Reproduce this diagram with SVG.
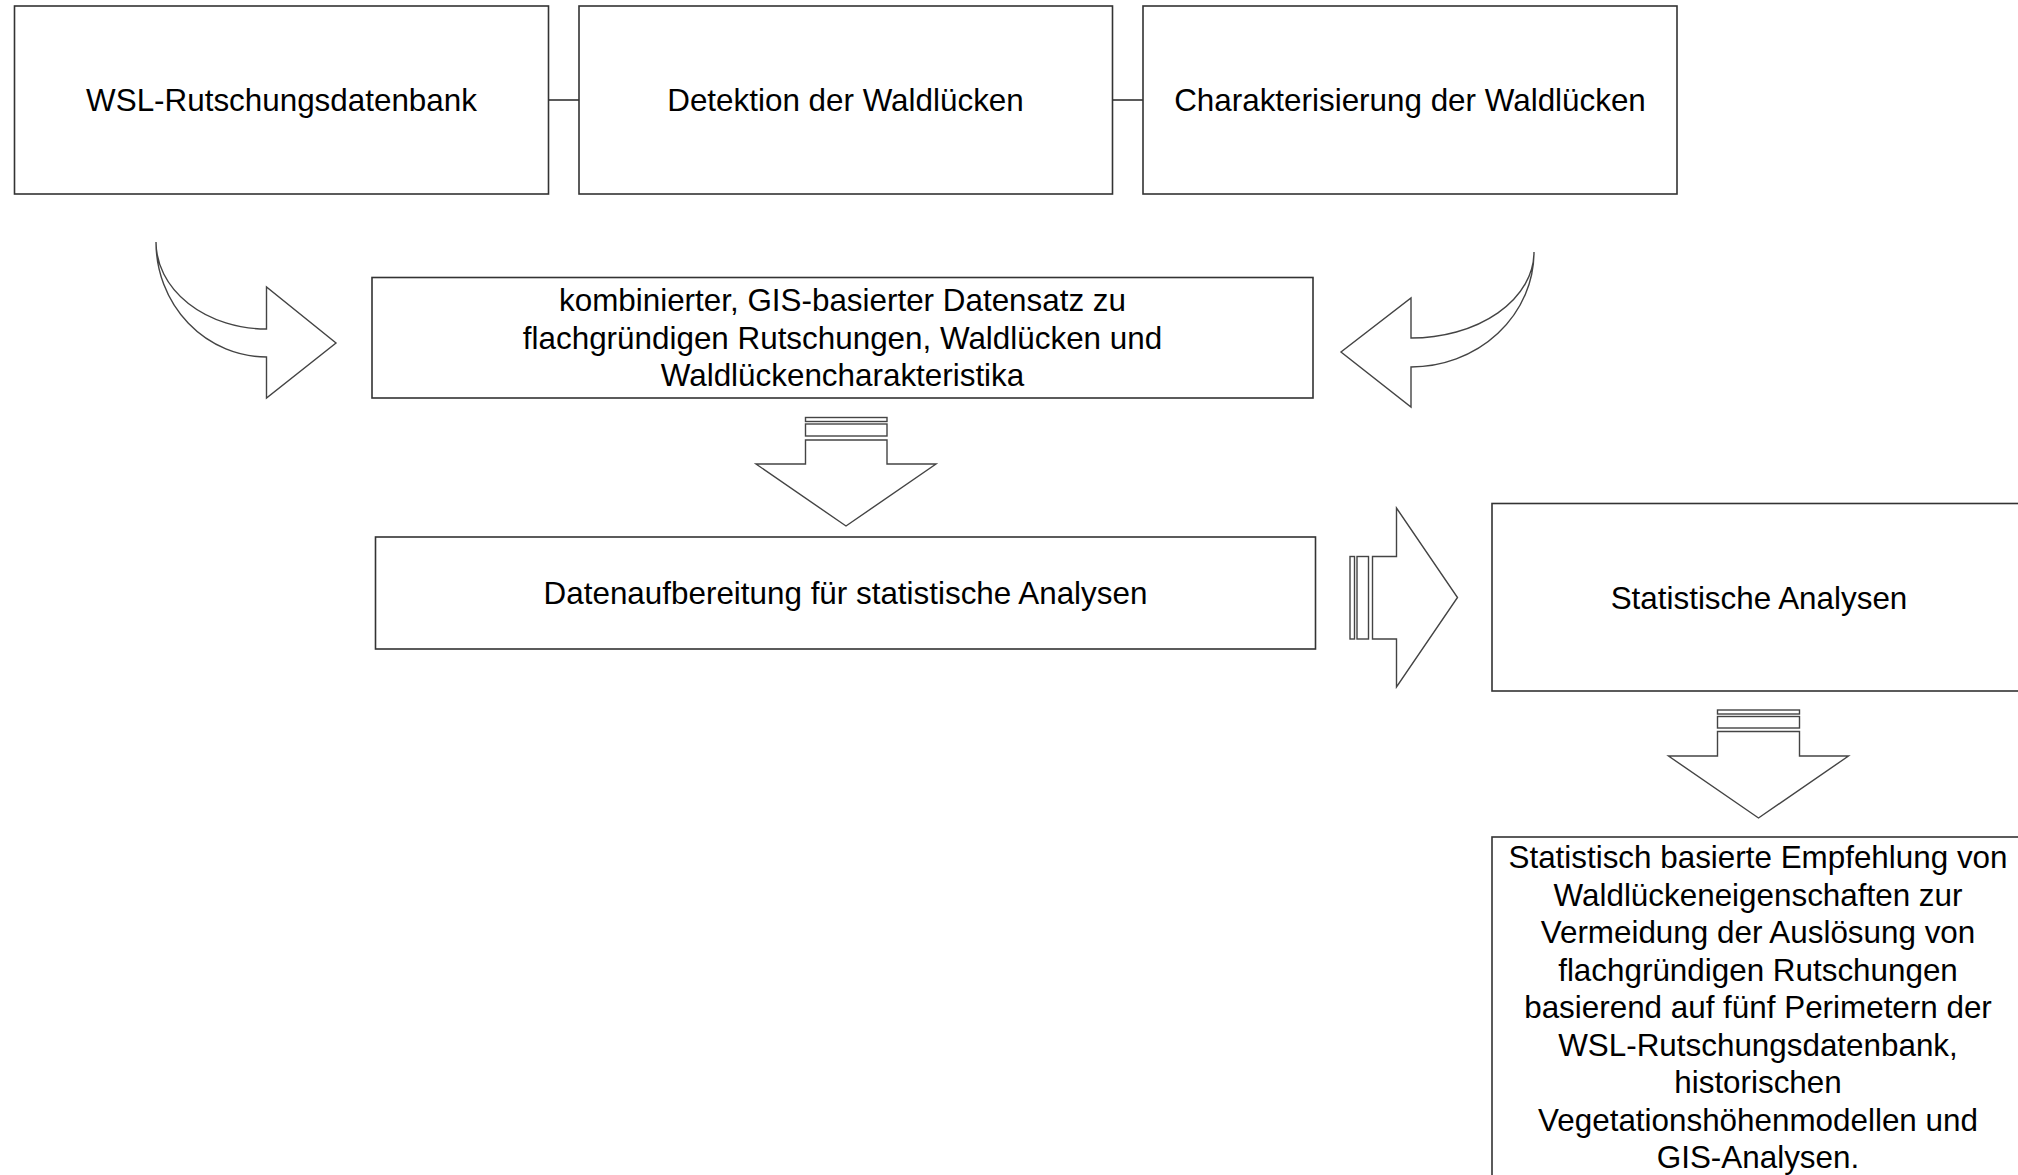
<svg xmlns="http://www.w3.org/2000/svg" width="2018" height="1175" viewBox="0 0 2018 1175">
<style>
.box{fill:#ffffff;stroke:#333333;stroke-width:1.6}
.arr{fill:#ffffff;stroke:#444444;stroke-width:1.4;stroke-linejoin:miter}
.ln{stroke:#333333;stroke-width:1.6;fill:none}
text{font-family:"Liberation Sans",Arial,Helvetica,sans-serif;font-size:31.4px;fill:#000000;text-anchor:middle}
</style>
<rect width="2018" height="1175" fill="#ffffff"/>
<g id="connectors">
<line class="ln" x1="548" y1="100" x2="579" y2="100"/>
<line class="ln" x1="1112" y1="100" x2="1143" y2="100"/>
<path id="curved-arrow-left" class="arr" d="M156,242 A110.5,87 0 0 0 266.5,329 L266.5,287 L336,343 L266.5,398 L266.5,357 A110.5,115 0 0 1 156,242 Z"/>
<path id="curved-arrow-right" class="arr" d="M1534,252 A123,86 0 0 1 1411,338 L1411,298 L1341,352 L1411,407 L1411,367 A123,115 0 0 0 1534,252 Z"/>
<g id="striped-arrow-down-1">
<rect class="arr" x="805.5" y="417.5" width="81.5" height="4"/>
<rect class="arr" x="805.5" y="424" width="81.5" height="12"/>
<path class="arr" d="M805.5,440 L887,440 L887,464 L936,464 L846,526 L756,464 L805.5,464 Z"/>
</g>
<g id="striped-arrow-right">
<rect class="arr" x="1350" y="556.5" width="4.5" height="82.5"/>
<rect class="arr" x="1357" y="556.5" width="11.5" height="82.5"/>
<path class="arr" d="M1372.5,556.5 L1396.5,556.5 L1396.5,508 L1457.5,597.5 L1396.5,687 L1396.5,639 L1372.5,639 Z"/>
</g>
<g id="striped-arrow-down-2">
<rect class="arr" x="1717.5" y="710" width="82" height="4"/>
<rect class="arr" x="1717.5" y="716.5" width="82" height="11.5"/>
<path class="arr" d="M1717.5,731.5 L1799.5,731.5 L1799.5,756 L1848.5,756 L1758.5,818 L1668.5,756 L1717.5,756 Z"/>
</g>
</g>
<g id="node-wsl">
<rect class="box" x="14.5" y="6" width="534" height="188"/>
<text x="281.5" y="110.5">WSL-Rutschungsdatenbank</text>
</g>
<g id="node-detektion">
<rect class="box" x="579" y="6" width="533.5" height="188"/>
<text x="845.5" y="110.5">Detektion der Waldlücken</text>
</g>
<g id="node-charakterisierung">
<rect class="box" x="1143" y="6" width="534" height="188"/>
<text x="1410" y="110.5">Charakterisierung der Waldlücken</text>
</g>
<g id="node-kombiniert">
<rect class="box" x="372" y="277.5" width="941" height="120.5"/>
<text x="842.5" y="311">kombinierter, GIS-basierter Datensatz zu</text>
<text x="842.5" y="348.5">flachgründigen Rutschungen, Waldlücken und</text>
<text x="842.5" y="386">Waldlückencharakteristika</text>
</g>
<g id="node-datenaufbereitung">
<rect class="box" x="375.5" y="537" width="940" height="112"/>
<text x="845.5" y="603.5">Datenaufbereitung für statistische Analysen</text>
</g>
<g id="node-statistische-analysen">
<rect class="box" x="1492" y="503.5" width="534" height="187.5"/>
<text x="1759" y="608.5">Statistische Analysen</text>
</g>
<g id="node-empfehlung">
<rect class="box" x="1492" y="837" width="534" height="380"/>
<text x="1758" y="868">Statistisch basierte Empfehlung von</text>
<text x="1758" y="905.5">Waldlückeneigenschaften zur</text>
<text x="1758" y="943">Vermeidung der Auslösung von</text>
<text x="1758" y="980.5">flachgründigen Rutschungen</text>
<text x="1758" y="1018">basierend auf fünf Perimetern der</text>
<text x="1758" y="1055.5">WSL-Rutschungsdatenbank,</text>
<text x="1758" y="1093">historischen</text>
<text x="1758" y="1130.5">Vegetationshöhenmodellen und</text>
<text x="1758" y="1168">GIS-Analysen.</text>
</g>
</svg>
